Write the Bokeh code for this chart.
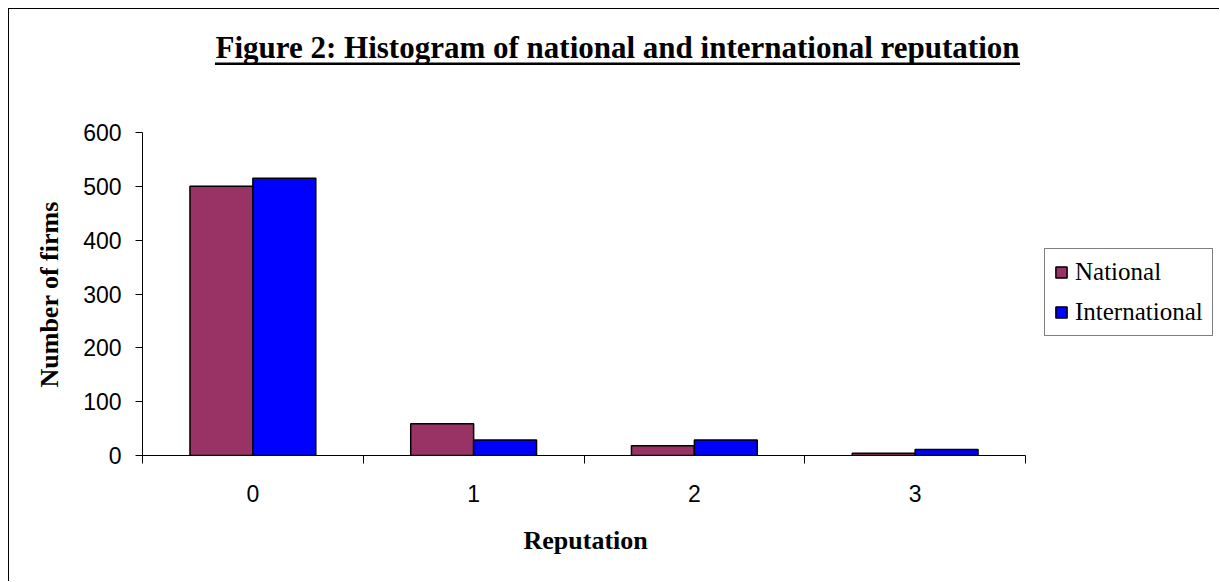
from bokeh.plotting import figure
from bokeh.layouts import column
from bokeh.models import (Range1d, FixedTicker, Legend, LegendItem, Label,
                          BoxAnnotation, Title)
from bokeh.embed import file_html
from bokeh.resources import INLINE

# ---- data ----
categories = [0, 1, 2, 3]
category_labels = ["0", "1", "2", "3"]
national = [500, 59, 18, 4]
international = [515, 29, 29, 11]
y_ticks = [0, 100, 200, 300, 400, 500, 600]
y_max = 600

title_text = "Figure 2: Histogram of national and international reputation"
x_label = "Reputation"
y_label = "Number of firms"

# ---- layout (page pixels) ----
OFF = 9
W, H = 1220 - OFF, 582 - OFF
AX_L, AX_R, AX_T, AX_B = 142, 1025, 132, 455   # axes box on the page
FR_L, FR_T, FR_R = AX_L, OFF, 1220             # frame reaches top and right edge
serif = "Liberation Serif"
sans = "Liberation Sans"

ncat = len(categories)
x_end = ncat * (FR_R - FR_L) / (AX_R - AX_L)
y_end = y_max * (AX_B - FR_T) / (AX_B - AX_T)

p = figure(width=W, height=H, output_backend="svg", toolbar_location=None,
           x_range=Range1d(0, x_end), y_range=Range1d(0, y_end),
           min_border_left=FR_L - OFF, min_border_right=0,
           min_border_top=0, min_border_bottom=582 - AX_B)
p.outline_line_color = None
p.xgrid.visible = False
p.ygrid.visible = False
p.background_fill_color = "white"
p.border_fill_color = "white"

bw = 0.285
x_nat = [c + 0.5 - bw / 2 for c in categories]
x_int = [c + 0.5 + bw / 2 for c in categories]
r1 = p.vbar(x=x_nat, top=national, width=bw, fill_color="#993366",
            line_color="black", line_width=1.5)
r2 = p.vbar(x=x_int, top=international, width=bw, fill_color="#0000FF",
            line_color="black", line_width=1.5)

# x axis: labels at category centres, tick marks at boundaries
xa = p.xaxis[0]
xa.bounds = (0, ncat)
xa.ticker = FixedTicker(ticks=[c + 0.5 for c in categories],
                        minor_ticks=list(categories) + [ncat])
xa.major_label_overrides = {c + 0.5: lab for c, lab in zip(categories, category_labels)}
xa.major_tick_out = 0
xa.major_tick_in = 0
xa.minor_tick_out = 8
xa.minor_tick_in = 0
xa.minor_tick_line_color = "black"
xa.axis_line_color = "black"
xa.major_label_text_font = sans
xa.major_label_text_font_size = "23px"
xa.major_label_text_color = "black"
xa.major_label_standoff = 21

ya = p.yaxis[0]
ya.bounds = (0, y_max)
ya.ticker = FixedTicker(ticks=y_ticks, minor_ticks=[])
ya.major_tick_out = 7
ya.major_tick_in = 0
ya.major_tick_line_color = "black"
ya.axis_line_color = "black"
ya.major_label_text_font = sans
ya.major_label_text_font_size = "23px"
ya.major_label_text_color = "black"
ya.major_label_standoff = 14

# axis titles (side titles, positioned along the axes box)
p.add_layout(Title(text=y_label, align="left", offset=AX_B - 387, standoff=34,
                   text_font=serif, text_font_style="bold", text_font_size="26px",
                   text_color="black"), "left")
p.add_layout(Title(text=x_label, align="left", offset=523 - AX_L, standoff=43,
                   vertical_align="top",
                   text_font=serif, text_font_style="bold", text_font_size="26px",
                   text_color="black"), "below")

# chart title with underline (screen units relative to the frame)
title_size = 31
title_cx = 617
p.add_layout(Label(x=title_cx - FR_L, y=AX_B - 47, x_units="screen", y_units="screen",
                   text=title_text, text_align="center", text_baseline="alphabetic",
                   text_font=serif, text_font_style="bold",
                   text_font_size=f"{title_size}px", text_color="black"))
tw = 25.97 * title_size
p.add_layout(BoxAnnotation(left=title_cx - tw / 2 - FR_L, right=title_cx + tw / 2 - FR_L,
                           top=AX_B - 62, bottom=AX_B - 64.5,
                           left_units="screen", right_units="screen",
                           top_units="screen", bottom_units="screen",
                           fill_color="black", fill_alpha=1, line_color=None,
                           line_alpha=0))

legend = Legend(items=[LegendItem(label="National", renderers=[r1]),
                       LegendItem(label="International", renderers=[r2])],
                location=(1044 - FR_L, AX_B - 336))
legend.border_line_color = "black"
legend.border_line_width = 1
legend.background_fill_alpha = 1
legend.label_text_font = serif
legend.label_text_font_size = "25px"
legend.label_text_color = "black"
legend.glyph_width = 14
legend.glyph_height = 14
legend.label_standoff = 7
legend.spacing = 12
legend.padding = 9
legend.margin = 0
p.add_layout(legend, "center")

root = column(p, width=W, height=H,
              styles={"margin-left": f"{OFF}px", "margin-top": f"{OFF}px",
                      "box-shadow": "-1px -1px 0px 0px black"})

open("out.html", "w").write(file_html(root, INLINE))
